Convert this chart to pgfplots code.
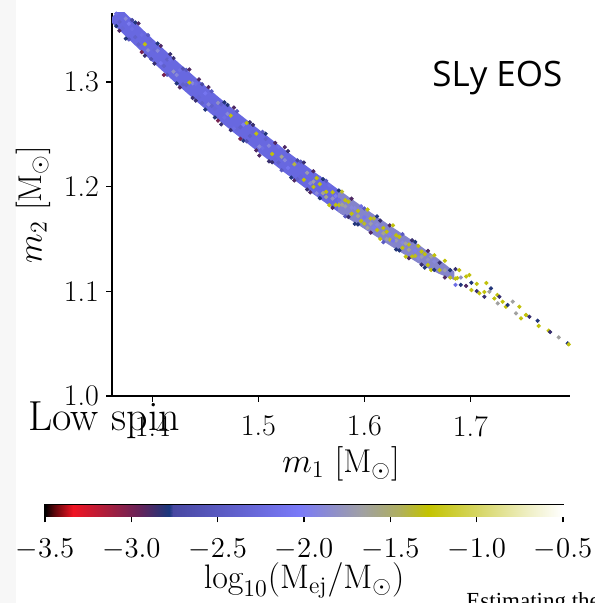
\documentclass[border=0pt]{standalone}
\usepackage{fontspec}
\usepackage{pgfplots}
\usepackage{pgfplotstable}
\pgfplotsset{compat=1.18}
\newfontfamily\osans{Open Sans}
\newfontfamily\lserif{Liberation Serif}
\definecolor{bandblue}{RGB}{104,104,224}
\definecolor{bandgray}{RGB}{132,132,204}
\pgfplotsset{
  colormap={ejcm}{rgb255(0pt)=(0,0,0); rgb255(5pt)=(90,5,10); rgb255(16pt)=(240,20,35);
    rgb255(36pt)=(170,30,60); rgb255(55pt)=(100,35,90); rgb255(72pt)=(25,55,125);
    rgb255(74pt)=(72,72,162); rgb255(147pt)=(122,122,248); rgb255(183pt)=(160,160,165);
    rgb255(205pt)=(175,175,95); rgb255(222pt)=(195,195,0); rgb255(252pt)=(215,215,105);
    rgb255(281pt)=(240,240,200); rgb255(300pt)=(255,255,255)}
}
\pgfplotstableread{
x y c
1.366 1.3534 -2.8
1.366 1.3654 -2.2
1.372 1.3675 -2.9
1.372 1.3515 -2.3
1.378 1.3407 -2.5
1.378 1.3557 -2.0
1.384 1.3569 -2.8
1.384 1.3429 -2.4
1.390 1.3286 -3.0
1.390 1.3451 -2.2
1.396 1.3448 -2.5
1.396 1.3303 -1.9
1.402 1.3176 -2.85
1.402 1.3306 -2.3
1.408 1.3346 -2.9
1.408 1.3181 -2.1
1.414 1.3070 -2.5
1.414 1.3215 -2.4
1.420 1.3229 -2.85
1.420 1.3099 -1.8
1.426 1.2949 -2.9
1.426 1.3114 -2.2
1.432 1.3116 -2.5
1.432 1.2971 -2.4
1.438 1.2848 -2.85
1.438 1.2988 -1.9
1.444 1.3025 -2.9
1.444 1.2855 -2.3
1.450 1.2737 -2.8
1.450 1.2892 -2.1
1.456 1.2912 -2.5
1.456 1.2772 -2.4
1.462 1.2631 -3.0
1.462 1.2801 -1.8
1.468 1.2806 -2.8
1.468 1.2661 -2.2
1.474 1.2540 -2.85
1.474 1.2680 -1.3
1.480 1.2722 -2.5
1.480 1.2552 -2.3
1.486 1.2439 -2.8
1.486 1.2594 -2.0
1.492 1.2615 -2.85
1.492 1.2485 -2.4
1.498 1.2347 -2.9
1.498 1.2507 -1.3
1.504 1.2524 -2.5
1.504 1.2369 -2.2
1.510 1.2242 -2.85
1.510 1.2392 -1.9
1.516 1.2419 -2.9
1.516 1.2264 -2.3
1.522 1.2157 -2.5
1.522 1.2287 -1.6
1.528 1.2340 -2.85
1.528 1.2180 -2.1
1.534 1.2060 -2.9
1.534 1.2215 -1.4
1.540 1.2239 -2.5
1.540 1.2099 -2.3
1.546 1.1973 -2.85
1.546 1.2133 -1.7
1.369 1.3575 -2.4
1.369 1.3490 -2.9
1.375 1.3606 -1.9
1.375 1.3416 -2.8
1.381 1.3507 -2.2
1.381 1.3592 -2.75
1.387 1.3360 -2.4
1.387 1.3560 -2.9
1.393 1.3362 -1.3
1.393 1.3252 -2.85
1.399 1.3395 -2.3
1.399 1.3220 -2.6
1.405 1.3299 -1.9
1.405 1.3369 -2.8
1.411 1.3153 -2.4
1.411 1.3068 -3.0
1.417 1.3217 -2.2
1.417 1.3267 -2.85
1.423 1.3067 -1.9
1.423 1.2987 -2.8
1.429 1.3128 -2.6
1.429 1.2978 -2.4
1.435 1.2995 -1.3
1.435 1.3120 -2.9
1.441 1.2822 -2.85
1.441 1.2982 -2.2
1.447 1.2799 -2.4
1.447 1.2979 -2.75
1.453 1.2787 -1.9
1.453 1.2952 -2.9
1.459 1.2746 -2.3
1.459 1.2661 -2.8
1.465 1.2786 -2.4
1.465 1.2596 -2.85
1.471 1.2696 -1.9
1.471 1.2781 -2.8
1.477 1.2556 -2.2
1.477 1.2756 -2.9
1.483 1.2568 -2.4
1.483 1.2458 -3.0
1.489 1.2609 -1.3
1.489 1.2434 -2.6
1.495 1.2521 -2.3
1.495 1.2591 -2.85
1.501 1.2383 -1.9
1.501 1.2298 -2.9
1.507 1.2456 -2.4
1.507 1.2506 -2.8
1.513 1.2313 -1.3
1.513 1.2233 -2.85
1.519 1.2381 -2.2
1.519 1.2231 -2.4
1.525 1.2253 -1.9
1.525 1.2378 -2.9
1.531 1.2087 -2.8
1.531 1.2247 -2.3
1.537 1.2072 -2.4
1.537 1.2252 -2.75
1.543 1.2066 -1.3
1.543 1.2231 -2.85
1.549 1.2031 -1.9
1.549 1.1946 -2.9
1.552 1.2148 -2.9
1.552 1.1998 -1.3
1.552 1.2048 -1.7
1.558 1.1890 -2.8
1.558 1.2025 -1.3
1.558 1.2085 -2.2
1.564 1.2056 -2.5
1.564 1.1901 -1.6
1.564 1.1951 -1.3
1.570 1.1797 -2.9
1.570 1.1947 -1.3
1.570 1.1887 -1.8
1.576 1.1964 -2.8
1.576 1.1824 -1.35
1.576 1.1874 -2.2
1.582 1.1717 -2.5
1.582 1.1872 -1.3
1.582 1.1812 -1.7
1.588 1.1886 -2.9
1.588 1.1741 -1.3
1.588 1.1801 -1.9
1.594 1.1639 -2.8
1.594 1.1769 -1.3
1.594 1.1719 -1.6
1.600 1.1792 -2.5
1.600 1.1647 -1.35
1.600 1.1707 -2.1
1.606 1.1561 -2.9
1.606 1.1696 -1.3
1.606 1.1646 -1.7
1.612 1.1716 -2.8
1.612 1.1586 -1.3
1.612 1.1636 -1.9
1.618 1.1470 -2.5
1.618 1.1605 -1.3
1.618 1.1555 -1.6
1.624 1.1630 -2.9
1.624 1.1495 -1.35
1.624 1.1545 -2.0
1.630 1.1400 -2.8
1.630 1.1535 -1.3
1.630 1.1485 -1.7
1.636 1.1546 -2.5
1.636 1.1416 -1.3
1.636 1.1466 -1.9
1.642 1.1317 -2.9
1.642 1.1447 -1.3
1.642 1.1397 -1.6
1.648 1.1473 -2.8
1.648 1.1338 -1.35
1.648 1.1388 -2.0
1.654 1.1255 -2.85
1.654 1.1380 -1.3
1.654 1.1330 -1.7
1.660 1.1387 -2.9
1.660 1.1252 -1.3
1.660 1.1302 -1.8
1.555 1.2082 -1.3
1.555 1.1937 -1.9
1.561 1.1938 -1.6
1.561 1.2073 -2.8
1.567 1.2014 -2.2
1.567 1.1824 -1.3
1.573 1.1826 -1.3
1.573 1.1911 -2.0
1.579 1.1953 -1.35
1.579 1.1828 -1.6
1.585 1.1711 -2.85
1.585 1.1856 -1.3
1.591 1.1795 -1.9
1.591 1.1645 -2.8
1.597 1.1673 -1.3
1.597 1.1813 -2.2
1.603 1.1782 -1.3
1.603 1.1607 -1.65
1.609 1.1611 -2.0
1.609 1.1696 -1.35
1.615 1.1676 -2.85
1.615 1.1501 -1.3
1.621 1.1500 -1.7
1.621 1.1570 -1.3
1.627 1.1630 -1.3
1.627 1.1485 -2.1
1.633 1.1391 -2.8
1.633 1.1521 -1.3
1.639 1.1457 -1.65
1.639 1.1332 -1.3
1.645 1.1333 -1.3
1.645 1.1488 -2.85
1.651 1.1434 -1.3
1.651 1.1314 -1.9
1.657 1.1226 -2.8
1.657 1.1356 -1.3
1.663 1.1333 -1.65
1.663 1.1203 -1.3
1.666 1.1345 -1.3
1.666 1.1205 -2.8
1.666 1.1285 -1.9
1.671 1.1273 -2.85
1.671 1.1203 -1.3
1.676 1.1292 -1.3
1.676 1.1132 -2.9
1.676 1.1202 -1.7
1.681 1.1202 -2.8
1.681 1.1132 -1.35
1.686 1.1212 -2.85
1.686 1.1122 -1.3
1.686 1.1062 -2.2
1.6877 1.1127 -1.3
1.6896 1.1203 -1.3
1.691 1.1132 -1.8
1.691 1.1062 -2.8
1.696 1.1142 -1.3
1.696 1.1052 -2.9
1.6991 1.1156 -1.3
1.701 1.1082 -2.8
1.701 1.1012 -1.3
1.706 1.1072 -1.3
1.706 1.1002 -2.85
1.7085 1.0981 -1.3
1.7132 1.0993 -1.3
1.7132 1.0948 -2.85
1.7151 1.1079 -1.3
1.7179 1.0996 -1.65
1.7194 1.1028 -2.8
1.7226 1.0932 -1.3
1.7255 1.0965 -1.3
1.7258 1.0885 -1.65
1.7274 1.0948 -2.85
1.7305 1.0901 -1.3
1.7335 1.0853 -1.3
1.7352 1.0869 -2.8
1.7400 1.0901 -1.65
1.7431 1.0790 -1.65
1.7462 1.0853 -1.3
1.7478 1.0742 -1.3
1.7525 1.0774 -1.3
1.7557 1.0757 -2.85
1.7635 1.0719 -2.8
1.7645 1.0669 -1.3
1.7739 1.0624 -1.3
1.7752 1.0611 -2.85
1.7833 1.0560 -1.65
1.7918 1.0503 -2.8
1.7928 1.0494 -1.3
}\ptsdata
\begin{document}
\begin{tikzpicture}
\fill[black!3] (0,0) rectangle (8pt,301.5pt);
\begin{axis}[
  at={(56pt,103.5pt)}, anchor=south west,
  scale only axis, width=229pt, height=191.5pt,
  xmin=1.362, xmax=1.794, ymin=1.0, ymax=1.366,
  axis x line*=bottom, axis y line*=left,
  axis line style={-, line width=0.6pt, black},
  tick align=outside, major tick length=3pt,
  tick style={line width=0.6pt, black},
  xtick={1.4,1.5,1.6,1.7}, xticklabels={1.4,1.5,1.6,1.7},
  ytick={1.0,1.1,1.2,1.3}, yticklabels={1.0,1.1,1.2,1.3},
  ticklabel style={font=\fontsize{15}{15}\selectfont},
  xticklabel style={yshift=-3.5pt},
  label style={font=\fontsize{16.5}{16.5}\selectfont},
  xlabel={$m_1\ [\mathrm{M}_\odot]$},
  ylabel={$m_2\ [\mathrm{M}_\odot]$},
  xlabel style={yshift=2pt},
  colormap name=ejcm, point meta min=-3.5, point meta max=-0.5,
]
\addplot[fill=bandblue, draw=none, forget plot] coordinates {
  (1.3592,1.3592) (1.3702,1.3702) (1.38,1.3607) (1.40,1.3415) (1.425,1.3183)
  (1.45,1.2962) (1.475,1.2752) (1.50,1.2551) (1.525,1.2353) (1.55,1.2163)
  (1.575,1.1977) (1.58,1.1942)
  (1.58,1.1726) (1.575,1.1761) (1.55,1.1943) (1.525,1.2133) (1.50,1.2331)
  (1.475,1.2532) (1.45,1.2742) (1.425,1.2963) (1.40,1.3195) (1.38,1.3387)};
\addplot[fill=bandgray, draw=none, forget plot] coordinates {
  (1.575,1.1977) (1.60,1.1797) (1.625,1.1623) (1.65,1.1455) (1.67,1.1309) (1.685,1.1188)
  (1.685,1.1108) (1.67,1.1169) (1.65,1.1275) (1.625,1.1433) (1.60,1.1597) (1.575,1.1761)};
\addplot[scatter, only marks, mark=*, mark size=0.85pt,
  scatter/use mapped color={draw=mapped color, fill=mapped color},
  point meta=explicit] table[x=x, y=y, meta=c] {\ptsdata};
\end{axis}
\begin{axis}[
  at={(22.5pt,43.25pt)}, anchor=south west,
  scale only axis, width=259pt, height=5.75pt,
  xmin=-3.5, xmax=-0.5, ymin=0, ymax=1,
  ytick=\empty,
  xtick={-3.5,-3.0,-2.5,-2.0,-1.5,-1.0,-0.5},
  xticklabels={$-3.5$,$-3.0$,$-2.5$,$-2.0$,$-1.5$,$-1.0$,$-0.5$},
  xtick pos=bottom,
  tick align=outside, major tick length=3pt,
  tick style={line width=0.6pt, black},
  axis line style={line width=0.6pt},
  ticklabel style={font=\fontsize{15}{15}\selectfont},
  xticklabel style={yshift=-4.5pt},
  label style={font=\fontsize{17}{17}\selectfont},
  xlabel={$\log_{10}(\mathrm{M}_{\mathrm{ej}}/\mathrm{M}_\odot)$},
  xlabel style={yshift=5.5pt},
  colormap name=ejcm, point meta min=-3.5, point meta max=-0.5,
]
\addplot[surf, shader=interp, mesh/cols=14, point meta=x] coordinates {
 (-3.5,0) (-3.45,0) (-3.34,0) (-3.14,0) (-2.95,0) (-2.78,0) (-2.76,0) (-2.03,0) (-1.67,0) (-1.45,0) (-1.28,0) (-0.98,0) (-0.69,0) (-0.5,0)
 (-3.5,1) (-3.45,1) (-3.34,1) (-3.14,1) (-2.95,1) (-2.78,1) (-2.76,1) (-2.03,1) (-1.67,1) (-1.45,1) (-1.28,1) (-0.98,1) (-0.69,1) (-0.5,1)};
\end{axis}
\node[anchor=base west, inner sep=0pt, font=\fontsize{21}{21}\selectfont] at (14pt,86pt) {Low spin};
\node[anchor=base west, inner sep=0pt, font=\osans\fontsize{17.5}{17.5}\selectfont] at (216pt,258pt) {SLy EOS};
\node[anchor=base west, inner sep=0pt, font=\lserif\fontsize{11.5}{11.5}\selectfont] at (233pt,-2.5pt) {Estimating the ejecta};
\pgfresetboundingbox
\useasboundingbox (0,0) rectangle (297pt,301.5pt);
\end{tikzpicture}
\end{document}
